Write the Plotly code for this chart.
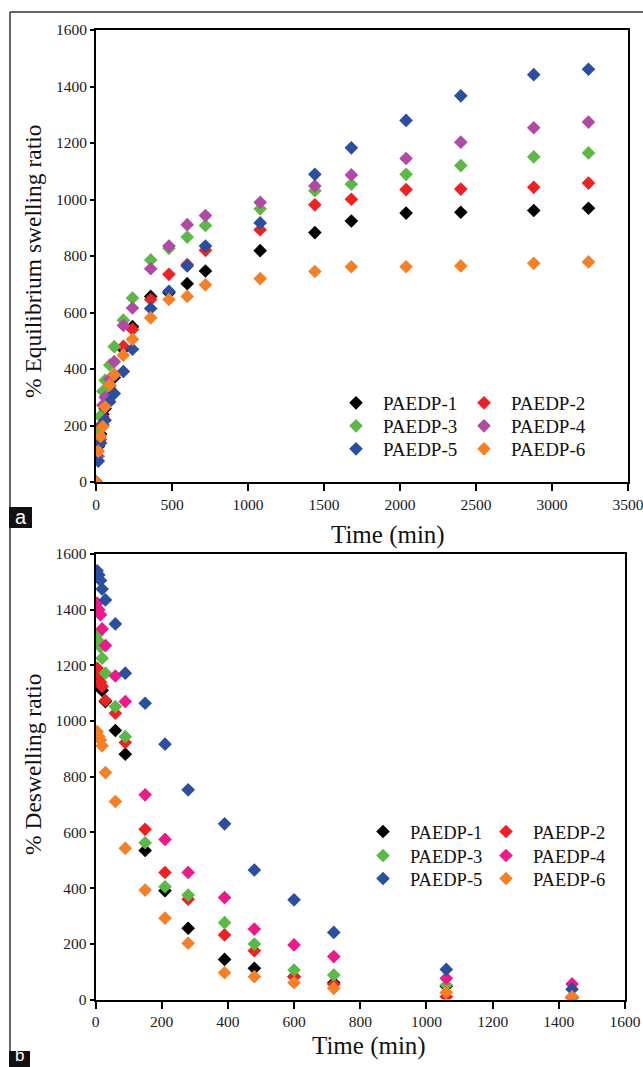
import plotly.graph_objects as go

W, H = 643, 1067

# ---- (a) swelling kinetics ----
swell_time = [0, 15, 30, 45, 60, 90, 120, 180, 240, 360, 480, 600, 720,
              1080, 1440, 1680, 2040, 2400, 2880, 3240]
swell_p1 = [0, 126, 170, 240, 260, 330, 370, 470, 550, 657, 670, 702, 747,
            819, 883, 924, 952, 955, 961, 969]
swell_p2 = [0, 130, 200, 231, 270, 340, 380, 480, 540, 646, 735, 770, 820,
            893, 981, 1001, 1035, 1037, 1043, 1058]
swell_p3 = [0, 173, 231, 321, 360, 414, 479, 573, 651, 786, 827, 867, 908,
            967, 1031, 1054, 1089, 1120, 1151, 1165]
swell_p4 = [0, 91, 150, 272, 300, 365, 426, 554, 616, 755, 835, 911, 943,
            990, 1048, 1087, 1145, 1203, 1254, 1274]
swell_p5 = [0, 74, 138, 202, 219, 284, 313, 391, 470, 614, 675, 765, 835,
            917, 1089, 1183, 1280, 1367, 1442, 1461]
swell_p6 = [0, 109, 161, 196, 266, 344, 379, 449, 505, 581, 646, 657, 698,
            720, 745, 762, 762, 765, 774, 779]

# ---- (b) deswelling kinetics ----
desw_time = [5, 10, 15, 20, 30, 60, 90, 150, 210, 280, 390, 480, 600, 720,
             1060, 1440]
desw_p1 = [1154, 1130, 1118, 1110, 1070, 966, 881, 535, 391, 256, 144, 112,
           82, 60, 48, 8]
desw_p2 = [1190, 1166, 1140, 1124, 1074, 1028, 923, 611, 456, 360, 232, 175,
           82, 55, 10, 5]
desw_p3 = [1310, 1286, 1266, 1226, 1172, 1052, 944, 563, 405, 375, 276, 199,
           106, 88, 52, 10]
desw_p4 = [1424, 1400, 1382, 1331, 1271, 1162, 1070, 735, 575, 456, 366, 253,
           196, 154, 76, 56]
desw_p5 = [1540, 1525, 1505, 1474, 1435, 1349, 1172, 1064, 917, 753, 631, 465,
           358, 241, 108, 37]
desw_p6 = [962, 944, 932, 911, 815, 711, 543, 393, 292, 202, 96, 82, 60, 40,
           25, 10]

names = ["PAEDP-1", "PAEDP-2", "PAEDP-3", "PAEDP-4", "PAEDP-5", "PAEDP-6"]
colors_a = ["#000000", "#EE2124", "#5CB946", "#B04AA5", "#2C4E9E", "#F58025"]
colors_b = ["#000000", "#EE2124", "#5CB946", "#EC1A8A", "#2C4E9E", "#F58025"]

SERIF = "Liberation Serif, Times New Roman, serif"


def px(x):
    return x / W


def py(y):
    return 1 - y / H


fig = go.Figure()

swell_sets = [swell_p1, swell_p2, swell_p3, swell_p4, swell_p5, swell_p6]
desw_sets = [desw_p1, desw_p2, desw_p3, desw_p4, desw_p5, desw_p6]

# legend grid: 3 rows x 2 columns per panel, one legend box per entry
# (marker centre x, row centre y) in pixels
legend_cols_a, legend_rows_a = [356, 484], [403, 426, 449]
legend_cols_b, legend_rows_b = [383, 506], [832, 856, 879]
legfont_a = dict(family=SERIF, size=19, color="#111111")
legfont_b = dict(family=SERIF, size=18.5, color="#111111")

layout_legends = {}
n = 0
for panel, (sets, cols, rows, colors, lfont, xa, ya) in enumerate([
        (swell_sets, legend_cols_a, legend_rows_a, colors_a, legfont_a,
         "x", "y"),
        (desw_sets, legend_cols_b, legend_rows_b, colors_b, legfont_b,
         "x2", "y2")]):
    times = swell_time if panel == 0 else desw_time
    for i, (nm, vals) in enumerate(zip(names, sets)):
        n += 1
        key = "legend" if n == 1 else f"legend{n}"
        mx, my = cols[i % 2], rows[i // 2]
        layout_legends[key] = dict(
            x=px(mx - 27), y=py(my - 19), xanchor="left", yanchor="top",
            bgcolor="rgba(0,0,0,0)", font=lfont, itemwidth=44,
        )
        fig.add_trace(go.Scatter(
            x=times, y=vals, mode="markers", name=nm,
            marker=dict(symbol="diamond", size=10.5, color=colors[i],
                        line=dict(width=0)),
            xaxis=xa, yaxis=ya, legend=key,
        ))

tickfont = dict(family=SERIF, size=15.5, color="#1a1a1a")
axis_common = dict(
    showgrid=False, zeroline=False, showline=True, linecolor="#000000",
    linewidth=2, mirror=True, ticks="outside", tickcolor="#000000",
    tickwidth=2, tickfont=tickfont, automargin=False,
    ticklabeloverflow="allow",
)

fig.update_layout(
    width=W, height=H, autosize=False,
    margin=dict(l=0, r=0, t=0, b=0, autoexpand=False),
    paper_bgcolor="white", plot_bgcolor="white",
    font=dict(family=SERIF, color="#111111"),
    showlegend=True,
    xaxis=dict(domain=[px(96), px(628)], range=[0, 3500], dtick=500,
               ticklen=7, anchor="y", **axis_common),
    yaxis=dict(domain=[py(482), py(30)], range=[0, 1600], dtick=200,
               ticklen=4, anchor="x", **axis_common),
    xaxis2=dict(domain=[px(95.5), px(625)], range=[0, 1600], dtick=200,
                ticklen=7, anchor="y2", **axis_common),
    yaxis2=dict(domain=[py(999.5), py(554)], range=[0, 1600], dtick=200,
                ticklen=4, anchor="x2", **axis_common),
    **layout_legends,
)


def label(text, x, y, font, angle=0):
    fig.add_annotation(text=text, x=px(x), y=py(y), xref="paper",
                       yref="paper", xanchor="center", yanchor="middle",
                       showarrow=False, textangle=angle, font=font)


# axis titles
titlefont_x = dict(family=SERIF, size=25, color="#111111")
titlefont_y = dict(family=SERIF, size=23.5, color="#111111")
label("Time (min)", 388, 535, titlefont_x)
label("Time (min)", 369, 1046, titlefont_x)
label("% Equilibrium swelling ratio", 33, 262, titlefont_y, -90)
label("% Deswelling ratio", 33, 765, titlefont_y, -90)

# outer frame (left and top edges)
fig.add_shape(type="line", xref="paper", yref="paper", x0=px(10), x1=px(10),
              y0=0, y1=py(12), line=dict(color="#333333", width=1.5))
fig.add_shape(type="line", xref="paper", yref="paper", x0=px(10), x1=1,
              y0=py(12), y1=py(12), line=dict(color="#333333", width=1.5))

# panel tags
for tag, (x0, y0, x1, y1), fs, cy in [("a", (9, 507, 32, 528), 20, 516.5),
                                      ("b", (9, 1051, 30, 1072), 17, 1055)]:
    fig.add_shape(type="rect", xref="paper", yref="paper", x0=px(x0),
                  x1=px(x1), y0=py(y1), y1=py(y0), fillcolor="#111111",
                  line=dict(width=0))
    label(tag, (x0 + x1) / 2, cy,
          dict(family="Liberation Sans", size=fs, color="white"))

fig.write_html("out.html")
